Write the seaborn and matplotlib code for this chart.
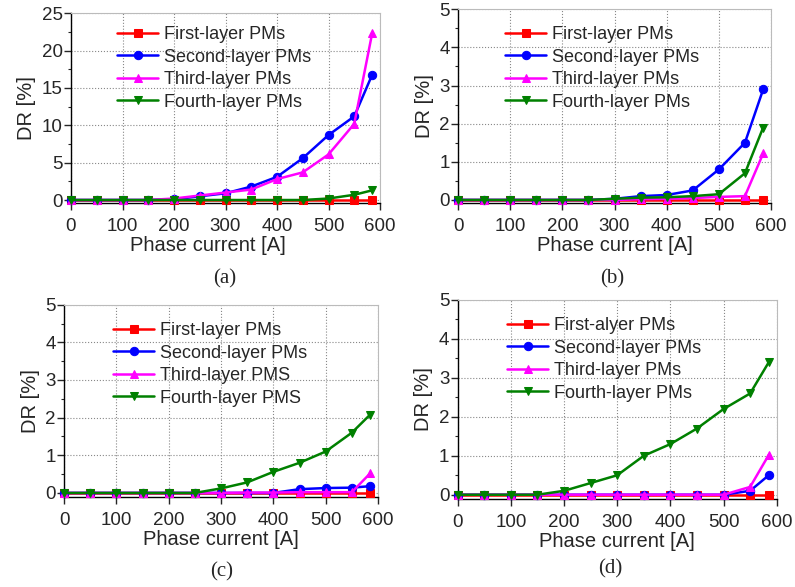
import numpy as np
import pandas as pd
import matplotlib
matplotlib.use("Agg")
import matplotlib.pyplot as plt
import seaborn as sns
from matplotlib.ticker import MultipleLocator

sns.set_style("white")
plt.rcParams['font.family'] = ['Liberation Sans', 'DejaVu Sans']

# ---------------- data ----------------
current = [0, 50, 100, 150, 200, 250, 300, 350, 400, 450, 500, 550, 585]

a_first = [0, 0, 0, 0, 0, 0, 0, 0, 0, 0, 0, 0, 0]
a_second = [0, 0, 0, 0, 0.1, 0.5, 0.9, 1.8, 3.1, 5.6, 8.7, 11.2, 16.8]
a_third = [0, 0, 0, 0, 0.2, 0.6, 1.0, 1.4, 2.8, 3.7, 6.1, 10.2, 22.4]
a_fourth = [0, 0, 0, 0, 0, 0, 0, 0, 0, 0, 0.2, 0.7, 1.3]

b_first = [0, 0, 0, 0, 0, 0, 0, 0, 0, 0, 0, 0, 0]
b_second = [0, 0, 0, 0, 0, 0, 0.03, 0.1, 0.13, 0.25, 0.8, 1.5, 2.9]
b_third = [0, 0, 0, 0, 0, 0, 0, 0.02, 0.03, 0.05, 0.08, 0.1, 1.22]
b_fourth = [0, 0, 0, 0, 0, 0, 0.03, 0.06, 0.07, 0.1, 0.15, 0.7, 1.9]

c_first = [0, 0, 0, 0, 0, 0, 0, 0, 0, 0, 0, 0, 0]
c_second = [0, 0, 0, 0, 0, 0, 0, 0, 0, 0.1, 0.13, 0.14, 0.18]
c_third = [0, 0, 0, 0, 0, 0, 0, 0.01, 0.01, 0.02, 0.02, 0.02, 0.52]
c_fourth = [0, 0, 0, 0, 0, 0, 0.12, 0.28, 0.56, 0.8, 1.1, 1.6, 2.08]

d_first = [0, 0, 0, 0, 0, 0, 0, 0, 0, 0, 0, 0, 0]
d_second = [0, 0, 0, 0, 0, 0, 0, 0, 0, 0, 0, 0.1, 0.5]
d_third = [0, 0, 0, 0, 0, 0, 0, 0, 0, 0, 0, 0.2, 1.02]
d_fourth = [0, 0, 0, 0, 0.1, 0.3, 0.5, 1.0, 1.3, 1.7, 2.2, 2.6, 3.4]

labels_ab = ["First-layer PMs", "Second-layer PMs", "Third-layer PMs", "Fourth-layer PMs"]
labels_c = ["First-layer PMs", "Second-layer PMs", "Third-layer PMS", "Fourth-layer PMS"]
labels_d = ["First-alyer PMs", "Second-layer PMs", "Third-layer PMs", "Fourth-layer PMs"]
panel_tags = ["(a)", "(b)", "(c)", "(d)"]

colors = ["#ff0000", "#0000ff", "#ff00ff", "#008000"]
markers = ["s", "o", "^", "v"]

W, H = 795, 587
fig = plt.figure(figsize=(W / 100, H / 100), dpi=100)

def box(l, t, r, b):
    return [l / W, 1 - b / H, (r - l) / W, (b - t) / H]

panels = [
    dict(rect=box(71, 13.3, 380, 203), series=[a_first, a_second, a_third, a_fourth],
         labels=labels_ab, ylim=(-0.4, 25), ystep=5, yminor=2.5, leg=(117, 26),
         tag=(225, 279), xlab_x=0.443),
    dict(rect=box(458, 9.3, 771, 203), series=[b_first, b_second, b_third, b_fourth],
         labels=labels_ab, ylim=(-0.08, 5), ystep=1, yminor=0.5, leg=(505, 26),
         tag=(612, 279), xlab_x=0.5),
    dict(rect=box(64, 304.7, 378, 496.7), series=[c_first, c_second, c_third, c_fourth],
         labels=labels_c, ylim=(-0.1, 5), ystep=1, yminor=0.5, leg=(113, 322),
         tag=(222, 572), xlab_x=0.5),
    dict(rect=box(457.7, 300, 776.7, 499), series=[d_first, d_second, d_third, d_fourth],
         labels=labels_d, ylim=(-0.11, 5), ystep=1, yminor=0.5, leg=(507, 317),
         tag=(610, 569), xlab_x=0.5),
]

for i, p in enumerate(panels):
    ax = fig.add_axes(p["rect"])
    for ser, lab, col, mk in zip(p["series"], p["labels"], colors, markers):
        df = pd.DataFrame({"x": current, "y": ser})
        sns.lineplot(data=df, x="x", y="y", ax=ax, color=col, marker=mk,
                     markersize=6, markeredgecolor=col, linewidth=1.8,
                     label=lab, clip_on=False, zorder=3)
    ax.set_xlim(0, 600)
    ax.set_ylim(*p["ylim"])
    ax.xaxis.set_major_locator(MultipleLocator(100))
    ax.yaxis.set_major_locator(MultipleLocator(p["ystep"]))
    ax.yaxis.set_minor_locator(MultipleLocator(p["yminor"]))
    ax.grid(True, which="major", linestyle=":", color="#888888", linewidth=0.8)
    ax.set_axisbelow(True)
    for s in ["left", "bottom"]:
        ax.spines[s].set_color("black")
        ax.spines[s].set_linewidth(1.0)
    for s in ["top", "right"]:
        ax.spines[s].set_color("#bbbbbb")
        ax.spines[s].set_linewidth(0.8)
    ax.tick_params(axis="both", which="major", direction="out", length=5, width=1,
                   labelsize=13.5, left=True, bottom=True)
    ax.tick_params(axis="x", which="major", pad=6)
    ax.tick_params(axis="y", which="major", pad=1)
    ax.tick_params(axis="y", which="minor", direction="out", length=2.5, width=0.8, left=True)
    ax.set_xlabel("Phase current [A]", fontsize=14.5, labelpad=0.5)
    ax.xaxis.label.set_x(p["xlab_x"])
    ax.set_ylabel("DR [%]", fontsize=14.5, labelpad=4)
    lx, ly = p["leg"]
    ax.legend(loc="upper left", bbox_to_anchor=(lx / W, 1 - ly / H),
              bbox_transform=fig.transFigure, frameon=False, fontsize=13,
              borderpad=0, borderaxespad=0, handlelength=2.28, handletextpad=0.3,
              labelspacing=0.31)
    tx, ty = p["tag"]
    fig.text(tx / W, 1 - ty / H, panel_tags[i], ha="center", va="center",
             fontsize=15, family=["Liberation Serif", "DejaVu Serif"])

fig.savefig("out.png", dpi=100)
